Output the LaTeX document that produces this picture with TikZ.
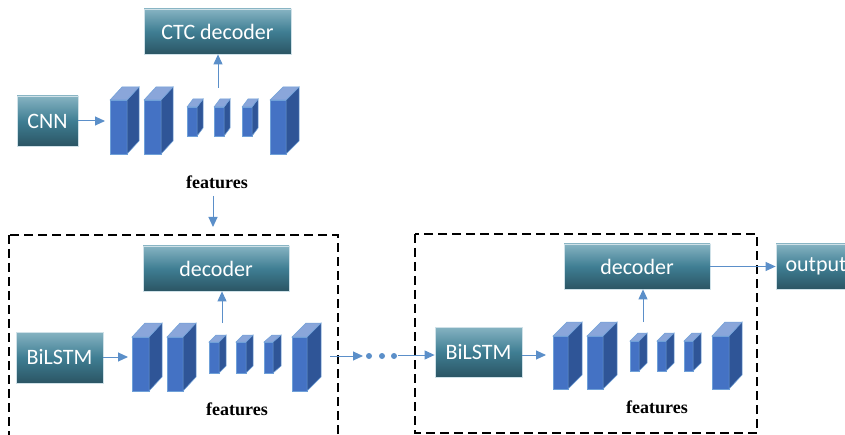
\documentclass[tikz,border=0pt]{standalone}
\usepackage{fontspec}
\setmainfont{Liberation Serif}
\newfontfamily\carl{Carlito}
\usetikzlibrary{arrows.meta}
\definecolor{arr}{HTML}{5B8FC9}
\definecolor{fface}{HTML}{4472C4}
\definecolor{sface}{HTML}{2F5597}
\definecolor{tface}{HTML}{8AA6DA}
\definecolor{edge}{HTML}{6FA0D8}
\definecolor{boxtop}{HTML}{86B3C2}
\definecolor{boxmid}{HTML}{3F7E93}
\definecolor{boxbot}{HTML}{2B5564}
\definecolor{boxline}{HTML}{CFE1E8}
\newcommand{\blk}[6]{%
  \filldraw[fill=fface,draw=edge,line width=0.5pt] (#1,#2) rectangle ({#1+#3},{#2+#4});
  \filldraw[fill=sface,draw=edge,line width=0.5pt] ({#1+#3},#2) -- ({#1+#3+#5},{#2-#6}) -- ({#1+#3+#5},{#2+#4-#6}) -- ({#1+#3},{#2+#4}) -- cycle;
  \filldraw[fill=tface,draw=edge,line width=0.5pt] (#1,#2) -- ({#1+#5},{#2-#6}) -- ({#1+#3+#5},{#2-#6}) -- ({#1+#3},#2) -- cycle;
}
\tikzset{
  tealbox/.style={draw=boxline,line width=0.8pt,top color=boxtop,bottom color=boxbot,middle color=boxmid,
    text=white,font=\carl\fontsize{22}{22}\selectfont,inner sep=0pt,anchor=center},
  conn/.style={draw=arr,line width=1pt,-{Triangle[width=9pt,length=10pt]}},
  dashbox/.style={draw=black,line width=1.1pt,dash pattern=on 9pt off 5pt},
  feat/.style={font=\bfseries\fontsize{18}{18}\selectfont,text=black,inner sep=0pt},
  dotc/.style={fill=arr,draw=none}
}
\begin{document}
\begin{tikzpicture}[x=1pt,y=-1pt]
\useasboundingbox (0,0) rectangle (845,435);
\clip (0,0) rectangle (845,435);
\fill[white] (0,0) rectangle (845,435);
% dashed boxes
\draw[dashbox] (9,235) rectangle (338,450);
\draw[dashbox] (415,234) rectangle (757,433);
% top row
\node[tealbox,minimum width=147pt,minimum height=45pt] (ctc) at (217.5,31.5) {CTC decoder};
\node[tealbox,minimum width=61pt,minimum height=50pt] (cnn) at (47.5,121) {CNN};
\blk{110}{100}{17}{54}{12}{13}
\blk{144}{100}{17}{54}{12}{13}
\blk{187}{107}{10}{29}{6}{8}
\blk{214}{107}{10}{29}{6}{8}
\blk{242}{107}{10}{29}{6}{8}
\blk{270}{100}{16}{54}{13}{13}
\node[feat] (f1) at (217,182) {features};
\coordinate (b1in) at (105,121);
\coordinate (b1up) at (218,88);
\coordinate (f1s) at (213,196);
\coordinate (f1e) at (213,227);
\draw[conn] (cnn.east) -- (b1in);
\draw[conn] (b1up) -- (b1up |- ctc.south);
\draw[conn] (f1s) -- (f1e);
% middle block
\node[tealbox,minimum width=146pt,minimum height=45pt] (dec1) at (216,268.5) {decoder};
\node[tealbox,minimum width=87pt,minimum height=51pt] (bil1) at (59.5,357.5) {BiLSTM};
\blk{132}{337}{17}{54}{13}{14}
\blk{167}{337}{16}{54}{13}{14}
\blk{209}{342}{10}{31}{7}{7}
\blk{236}{342}{10}{31}{7}{7}
\blk{264}{342}{9}{31}{8}{7}
\blk{292}{337}{15}{54}{14}{14}
\node[feat] (f2) at (237,409) {features};
\coordinate (b2in) at (128,357);
\coordinate (b2up) at (222,323);
\coordinate (b2out) at (330,356);
\coordinate (dotsa) at (363,356);
\coordinate (dotsb) at (398,355);
\draw[conn] (bil1.east |- b2in) -- (b2in);
\draw[conn] (b2up) -- (b2up |- dec1.south);
\draw[conn] (b2out) -- (dotsa);
\fill[dotc] (369,356) circle (3pt);
\fill[dotc] (382,356) circle (3pt);
\fill[dotc] (394,356) circle (3pt);
% right block
\node[tealbox,minimum width=146pt,minimum height=45pt] (dec2) at (637,266.5) {decoder};
\node[tealbox,minimum width=87pt,minimum height=50pt] (bil2) at (478.5,352) {BiLSTM};
\node[tealbox,minimum width=80pt,minimum height=45pt] (out) at (816,266.5) {output};
\draw[conn] (dotsb) -- (bil2.west |- dotsb);
\blk{553}{336}{15}{53}{14}{14}
\blk{587}{336}{16}{53}{14}{14}
\blk{630}{341}{9}{30}{8}{8}
\blk{657}{341}{9}{30}{8}{8}
\blk{684}{341}{9}{30}{8}{8}
\blk{712}{336}{17}{53}{13}{14}
\node[feat] (f3) at (657,407) {features};
\coordinate (b3in) at (546,355);
\coordinate (b3up) at (643,322);
\draw[conn] (bil2.east |- b3in) -- (b3in);
\draw[conn] (b3up) -- (b3up |- dec2.south);
\draw[conn] (dec2.east) -- (out.west);
\end{tikzpicture}
\end{document}
